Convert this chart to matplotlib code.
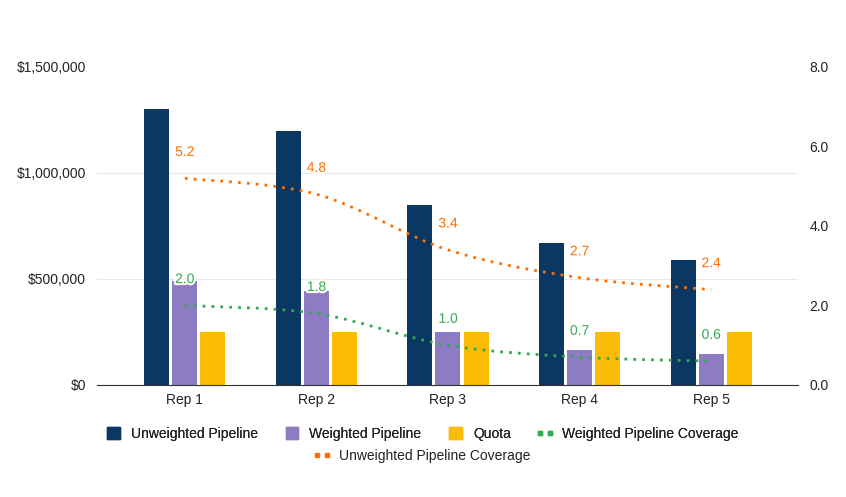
import matplotlib.pyplot as plt
import matplotlib.patheffects as pe
from matplotlib.path import Path
from matplotlib.patches import PathPatch, Patch
from matplotlib.lines import Line2D
from matplotlib.legend_handler import HandlerLine2D
from matplotlib.ticker import FuncFormatter
import numpy as np

reps = ['Rep 1', 'Rep 2', 'Rep 3', 'Rep 4', 'Rep 5']
unweighted = [1300000, 1200000, 850000, 670000, 590000]
weighted = [490000, 445000, 250000, 165000, 145000]
quota = [250000, 250000, 250000, 250000, 250000]
weighted_cov = [2.0, 1.8, 1.0, 0.7, 0.6]
unweighted_cov = [5.2, 4.8, 3.4, 2.7, 2.4]

navy = '#0b3763'
purple = '#8e7cc3'
yellow = '#fbbc04'
green = '#34a853'
orange = '#ff6d01'
grey = '#222222'

plt.rcParams['font.family'] = ['Liberation Sans', 'DejaVu Sans']

fig = plt.figure(figsize=(8.46, 4.97), dpi=100)
ax = fig.add_axes([0.1147, 0.2254, 0.8286, 0.6398])
ax2 = ax.twinx()

x = np.arange(len(reps))
w = 0.19
off = 0.213
ax.bar(x - off, unweighted, w, color=navy, zorder=2)
ax.bar(x, weighted, w, color=purple, zorder=2)
ax.bar(x + off, quota, w, color=yellow, zorder=2)

ax.set_ylim(0, 1500000)
ax.set_yticks([0, 500000, 1000000, 1500000])
ax.yaxis.set_major_formatter(FuncFormatter(lambda v, p: '${:,.0f}'.format(v)))
ax.set_xlim(-0.667, 4.66)
ax.set_xticks(x)
ax.set_xticklabels(reps)
for v in [500000, 1000000]:
    ax.axhline(v, color='#e8e8e8', lw=0.8, zorder=0)

ax2.set_ylim(0, 8)
ax2.set_yticks([0, 2, 4, 6, 8])
ax2.yaxis.set_major_formatter(FuncFormatter(lambda v, p: '{:.1f}'.format(v)))

for a in (ax, ax2):
    for s in ['top', 'left', 'right']:
        a.spines[s].set_visible(False)
    a.tick_params(length=0, labelsize=10, colors=grey)
ax.spines['bottom'].set_color('#333333')
ax2.spines['bottom'].set_visible(False)
ax.tick_params(axis='y', pad=8)
ax2.tick_params(axis='y', pad=8)
ax.tick_params(axis='x', pad=6)


def smooth(xs, ys):
    # catmull-rom as cubic bezier segments
    pts = np.column_stack([xs, ys]).astype(float)
    verts = [pts[0]]
    codes = [Path.MOVETO]
    n = len(pts)
    for i in range(n - 1):
        p0 = pts[max(i - 1, 0)]
        p1 = pts[i]
        p2 = pts[i + 1]
        p3 = pts[min(i + 2, n - 1)]
        c1 = p1 + (p2 - p0) / 6
        c2 = p2 - (p3 - p1) / 6
        verts += [c1, c2, p2]
        codes += [Path.CURVE4] * 3
    return Path(verts, codes)


for vals, col in [(unweighted_cov, orange), (weighted_cov, green)]:
    patch = PathPatch(smooth(x, vals), fill=False, edgecolor=col, lw=2,
                      linestyle=(0, (1, 2.2)), zorder=3)
    ax2.add_patch(patch)
    for xi, v in zip(x, vals):
        t = ax2.annotate('{:.1f}'.format(v), (xi, v), xytext=(0, 19),
                         textcoords='offset points', ha='center', va='center',
                         color=col, fontsize=10, zorder=4)
        t.set_path_effects([pe.withStroke(linewidth=3, foreground='white')])

g_handle = Line2D([], [], color=green, marker='s', markersize=3.5, linestyle='none')
o_handle = Line2D([], [], color=orange, marker='s', markersize=3.5, linestyle='none')
hmap = {g_handle: HandlerLine2D(marker_pad=0.1, numpoints=2),
        o_handle: HandlerLine2D(marker_pad=0.1, numpoints=2)}

handles1 = [Patch(color=navy), Patch(color=purple), Patch(color=yellow), g_handle]
labels1 = ['Unweighted Pipeline', 'Weighted Pipeline', 'Quota', 'Weighted Pipeline Coverage']
leg1 = fig.legend(handles1, labels1, loc='center', bbox_to_anchor=(0.5, 0.127), ncol=4,
                  frameon=False, fontsize=10, handlelength=0.9, handleheight=0.9,
                  columnspacing=2.0, handletextpad=0.8, labelcolor=grey, handler_map=hmap)
fig.add_artist(leg1)
fig.legend([o_handle], ['Unweighted Pipeline Coverage'], loc='center',
           bbox_to_anchor=(0.5, 0.082), frameon=False, fontsize=10, handlelength=0.9,
           handletextpad=0.8, labelcolor=grey, handler_map=hmap)

fig.savefig('out.png', dpi=100)
